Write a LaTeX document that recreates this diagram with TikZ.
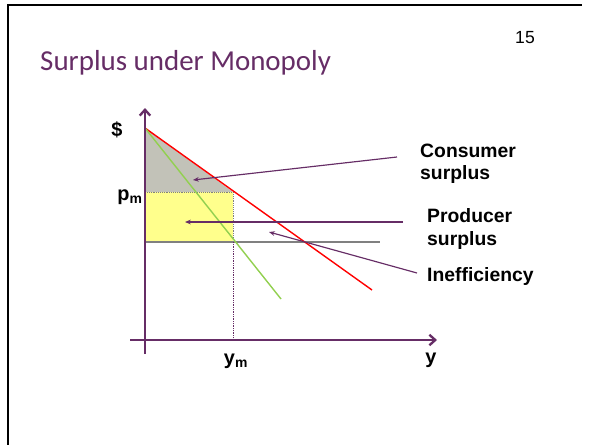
\documentclass[tikz,border=0pt]{standalone}
\usepackage{fontspec}
\setmainfont{Liberation Sans}
\newfontfamily\titlefont{Carlito}
\usepackage{xcolor}
\definecolor{mppurple}{RGB}{102,45,102}
\definecolor{mpred}{RGB}{255,0,0}
\definecolor{mpgreen}{RGB}{146,208,80}
\definecolor{mpgray}{RGB}{128,128,128}
\definecolor{mphatch}{RGB}{194,194,184}
\definecolor{mpyellow}{RGB}{255,255,140}
\usetikzlibrary{arrows.meta,positioning}

\begin{document}
\begin{tikzpicture}[x=0.03cm, y=-0.03cm]
  \useasboundingbox (0,0) rectangle (592,445);

  %--- Slide frame and title ---
  \draw[line width=2.5pt, black] (7,5) -- (582,5);
  \draw[line width=2.5pt, black] (8,5) -- (8,445);
  \node[anchor=west, inner sep=0pt, font=\titlefont\fontsize{24.7}{28}\selectfont, text=mppurple] (title) at (40,63) {Surplus under Monopoly};
  \node[inner sep=0pt, font=\fontsize{15}{18}\selectfont] (page) at (525,38) {15};

  %--- Key points ---
  \coordinate (top) at (145,128);
  \coordinate (pm) at (145,192);
  \coordinate (base) at (145,242);
  \coordinate (dpm) at (233,192);
  \coordinate (mc) at (233,242);
  \coordinate (ym) at (233,340);

  % Surplus areas
  \fill[mphatch] (top) -- (pm) -- (dpm) -- cycle;
  \fill[mpyellow] (pm) rectangle (mc);
  \draw[mpgray, densely dotted, line width=0.6pt] (pm) -- (dpm) -- (mc);

  % Cost and demand curves
  \coordinate (mcend) at (380,242);
  \draw[mpgray, line width=1.5pt] (base) -- (mcend);
  \coordinate (dend) at (372,290);
  \draw[mpred, line width=1.2pt] (top) -- (dend);
  \coordinate (mrend) at (281,299);
  \draw[mpgreen, line width=1.2pt] (top) -- (mrend);
  \draw[mppurple, densely dotted, line width=0.5pt] (mc) -- (ym);

  %--- Axes ---
  \coordinate (yax0) at (145,354);
  \coordinate (yax1) at (145,108);
  \coordinate (xax0) at (130,340);
  \coordinate (xax1) at (437,340);
  \draw[-{Straight Barb[length=5pt,width=9pt]}, line width=2pt, mppurple] (yax0) -- (yax1);
  \draw[-{Straight Barb[length=5pt,width=9pt]}, line width=2pt, mppurple] (xax0) -- (xax1);

  \node[font=\bfseries\fontsize{17}{19}\selectfont, inner sep=0pt] (dollar) at (117,130) {\$};
  \node[font=\bfseries\fontsize{17}{19}\selectfont, inner sep=0pt] (plabel) at (130,197) {p\textsubscript{m}};
  \node[font=\bfseries\fontsize{17}{19}\selectfont, inner sep=0pt] (ylabel) at (236,361) {y\textsubscript{m}};
  \node[font=\bfseries\fontsize{17}{19}\selectfont, inner sep=0pt] (yaxis) at (431,360) {y};

  %--- Labels and arrows ---
  \node[anchor=west, inner sep=0pt, align=left, font=\bfseries\fontsize{16.5}{19}\selectfont] (cs) at (420,164) {Consumer\\surplus};
  \node[anchor=west, inner sep=0pt, align=left, font=\bfseries\fontsize{16.5}{19}\selectfont] (ps) at (427,229) {Producer\\surplus};
  \node[anchor=west, inner sep=0pt, align=left, font=\bfseries\fontsize{16.5}{19}\selectfont] (ineff) at (427,276) {Inefficiency};

  \coordinate (cstail) at (397,157);
  \coordinate (cshead) at (193,180);
  \coordinate (pstail) at (403,222);
  \coordinate (pshead) at (185,222);
  \coordinate (intail) at (417,273);
  \coordinate (inhead) at (269,232);
  \draw[-{Stealth[length=5pt,width=4pt]}, mppurple, line width=1pt] (cstail) -- (cshead);
  \draw[-{Stealth[length=5pt,width=4pt]}, mppurple, line width=1pt] (pstail) -- (pshead);
  \draw[-{Stealth[length=5pt,width=4pt]}, mppurple, line width=1pt] (intail) -- (inhead);
\end{tikzpicture}
\end{document}
